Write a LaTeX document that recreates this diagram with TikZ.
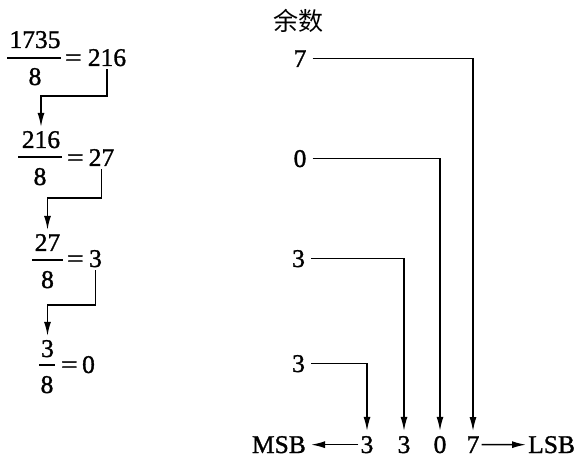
\documentclass[tikz,border=0pt]{standalone}
\usepackage{fontspec}
\setmainfont{Liberation Serif}[FakeBold=0.8]
\newfontfamily\heavy{Liberation Serif}[FakeBold=1.2]
\newfontfamily\cjk{Noto Sans CJK SC}
\usetikzlibrary{arrows.meta}
\begin{document}
\begin{tikzpicture}[x=1pt,y=-1pt,
  txt/.style={inner sep=1pt,font=\heavy\fontsize{25.5}{30}\selectfont},
  lab/.style={inner sep=1pt,font=\cjk\fontsize{25}{30}\selectfont},
  fbar/.style={line width=1.5pt},
  arr/.style={line width=1.5pt,-{Latex[length=14pt,width=7pt]}}]
\useasboundingbox (0,0) rectangle (575,462);
% ---- left: successive divisions ----
\node[txt,anchor=base] (n1) at (35,48) {1735};
\draw[fbar] (7,58) -- (61,58);
\node[txt,anchor=base] (d1) at (35,85) {8};
\node[txt,anchor=base west] (e1) at (64,66) {\scalebox{1.15}[1]{=}};
\node[txt,anchor=base] (q1) at (107,66) {216};

\node[txt,anchor=base] (n2) at (41,148) {216};
\draw[fbar] (18,157) -- (62,157);
\node[txt,anchor=base] (d2) at (40,185) {8};
\node[txt,anchor=base west] (e2) at (66,166) {\scalebox{1.15}[1]{=}};
\node[txt,anchor=base] (q2) at (101.5,166) {27};

\node[txt,anchor=base] (n3) at (47.5,251) {27};
\draw[fbar] (32,260) -- (63,260);
\node[txt,anchor=base] (d3) at (47.5,288) {8};
\node[txt,anchor=base west] (e3) at (66,267) {\scalebox{1.15}[1]{=}};
\node[txt,anchor=base] (q3) at (95.5,267) {3};

\node[txt,anchor=base] (n4) at (47.5,357) {3};
\draw[fbar] (39,365) -- (55,365);
\node[txt,anchor=base] (d4) at (47,393) {8};
\node[txt,anchor=base west] (e4) at (60,373) {\scalebox{1.15}[1]{=}};
\node[txt,anchor=base] (q4) at (88.5,373) {0};

\coordinate (c1) at (0,96);
\coordinate (c2) at (0,198);
\coordinate (c3) at (0,305);
\draw[arr,shorten <=2pt,shorten >=3pt] (q1.south) -- (q1.south |- c1) -| (n2.north);
\draw[arr,shorten <=2pt,shorten >=3pt] (q2.south) -- (q2.south |- c2) -| (n3.north);
\draw[arr,shorten <=2pt,shorten >=3pt] (q3.south) -- (q3.south |- c3) -| (n4.north);

% ---- right: remainders ----
\node[lab] (rem) at (298,21) {余数};
\node[txt,anchor=base] (r7) at (300,67) {7};
\node[txt,anchor=base] (r0) at (300,167) {0};
\node[txt,anchor=base] (r3a) at (298.5,267) {3};
\node[txt,anchor=base] (r3b) at (298.5,372) {3};

\node[txt,anchor=base] (b3a) at (367,453) {3};
\node[txt,anchor=base] (b3b) at (404,453) {3};
\node[txt,anchor=base] (b0) at (440,453) {0};
\node[txt,anchor=base] (b7) at (473,453) {7};
\node[txt,anchor=base east] (msb) at (307,453) {MSB};
\node[txt,anchor=base west] (lsb) at (527,453) {LSB};

\draw[arr,shorten <=5pt,shorten >=4pt] (r7.east) -| (b7.north);
\draw[arr,shorten <=5pt,shorten >=4pt] (r0.east) -| (b0.north);
\draw[arr,shorten <=5pt,shorten >=4pt] (r3a.east) -| (b3b.north);
\draw[arr,shorten <=5pt,shorten >=4pt] (r3b.east) -| (b3a.north);

\draw[arr,shorten <=1pt,shorten >=4pt] (b3a.west) -- (msb.east);
\draw[arr,shorten <=1pt,shorten >=1pt] (b7.east) -- (lsb.west);
\end{tikzpicture}
\end{document}
